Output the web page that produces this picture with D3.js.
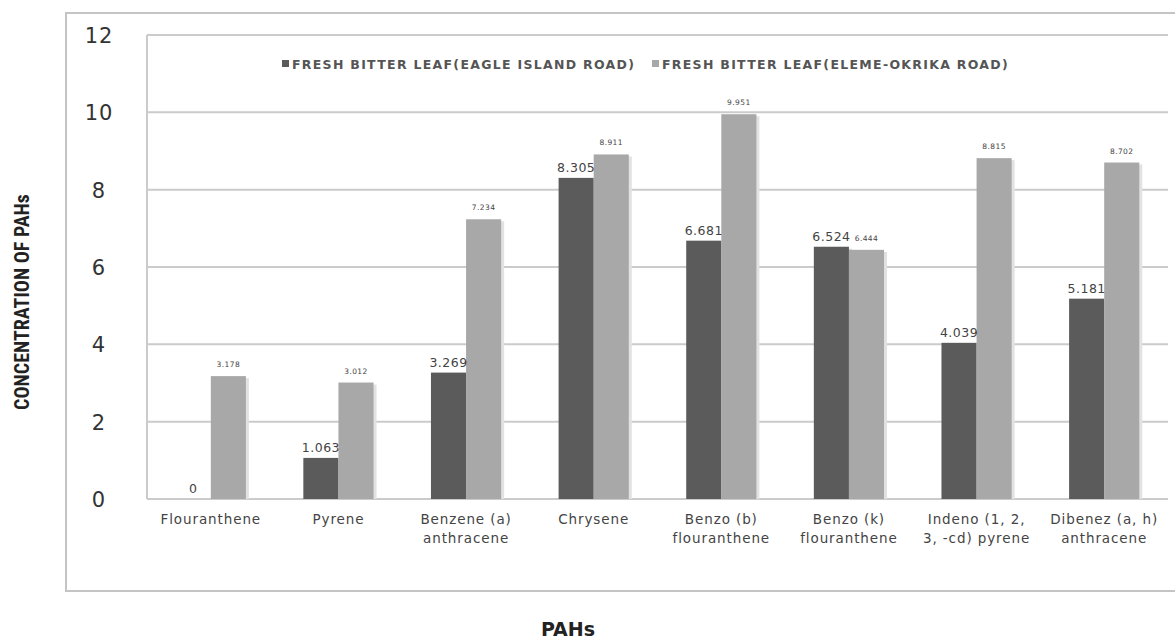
<!DOCTYPE html>
<html>
<head>
<meta charset="utf-8">
<script src="https://cdn.jsdelivr.net/npm/d3@7"></script>
<style>
  html, body { margin: 0; padding: 0; background: #fff; }
  svg { display: block; }
</style>
</head>
<body>
<svg id="chart" width="1175" height="640"></svg>
<script>
// PAH concentrations in fresh bitter leaf from two roadside sites
const categories = [
  "Flouranthene", "Pyrene", "Benzene (a) anthracene", "Chrysene",
  "Benzo (b) flouranthene", "Benzo (k) flouranthene",
  "Indeno (1, 2, 3, -cd) pyrene", "Dibenez (a, h) anthracene"
];
const categoryLines = [
  ["Flouranthene"], ["Pyrene"], ["Benzene (a)", "anthracene"], ["Chrysene"],
  ["Benzo (b)", "flouranthene"], ["Benzo (k)", "flouranthene"],
  ["Indeno (1, 2,", "3, -cd) pyrene"], ["Dibenez (a, h)", "anthracene"]
];
const seriesNames = [
  "FRESH BITTER LEAF(EAGLE ISLAND ROAD)",
  "FRESH BITTER LEAF(ELEME-OKRIKA ROAD)"
];
const eagleIsland = [0, 1.063, 3.269, 8.305, 6.681, 6.524, 4.039, 5.181];
const elemeOkrika = [3.178, 3.012, 7.234, 8.911, 9.951, 6.444, 8.815, 8.702];
const yTicks = [0, 2, 4, 6, 8, 10, 12];

const svg = d3.select("#chart");
const colors = ["#5b5b5b", "#a8a8a8"];
const plot = { left: 147, right: 1168, top: 35, bottom: 499 };

// outer chart frame
svg.append("rect")
  .attr("x", 66).attr("y", 13).attr("width", 1120).attr("height", 578)
  .attr("fill", "none").attr("stroke", "#c4c4c4").attr("stroke-width", 2);

const x0 = d3.scaleBand().domain(categories).range([plot.left, plot.right]).paddingInner(0).paddingOuter(0);
const bandW = x0.bandwidth();
const barW = bandW * 0.275;
const y = d3.scaleLinear().domain([0, 12]).range([plot.bottom, plot.top]);

// gridlines
svg.append("g").selectAll("line").data(yTicks).join("line")
  .attr("x1", plot.left).attr("x2", plot.right)
  .attr("y1", d => y(d)).attr("y2", d => y(d))
  .attr("stroke", "#cbcbcb").attr("stroke-width", 2);

// plot area left border
svg.append("line")
  .attr("x1", plot.left).attr("x2", plot.left)
  .attr("y1", plot.top).attr("y2", plot.bottom)
  .attr("stroke", "#cbcbcb").attr("stroke-width", 2);

// y axis tick labels
const yAxis = d3.axisLeft(y).tickValues(yTicks).tickSize(0).tickFormat(d3.format("d"));
const yg = svg.append("g").attr("transform", `translate(99,0)`).call(yAxis);
yg.select(".domain").remove();
yg.selectAll("text")
  .attr("x", 0).attr("text-anchor", "middle").attr("dy", "0.36em")
  .attr("font-family", "DejaVu Sans, sans-serif").attr("font-size", 21)
  .attr("letter-spacing", 1)
  .attr("fill", "#333");

const data = categories.map((c, i) => ({ c, vals: [eagleIsland[i], elemeOkrika[i]] }));

const groups = svg.append("g").selectAll("g").data(data).join("g")
  .attr("transform", d => `translate(${x0(d.c) + bandW / 2},0)`);

// soft shadow behind the bars
groups.selectAll("rect.shadow").data(d => d.vals).join("rect")
  .attr("class", "shadow")
  .attr("x", (v, j) => (j === 0 ? -barW : 0) + 3)
  .attr("y", v => y(v) + 2)
  .attr("width", barW).attr("height", v => y(0) - y(v) - 2)
  .attr("fill", "#e2e2e2");

groups.selectAll("rect.bar").data(d => d.vals).join("rect")
  .attr("class", "bar")
  .attr("x", (v, j) => (j === 0 ? -barW : 0))
  .attr("y", v => y(v))
  .attr("width", barW).attr("height", v => y(0) - y(v))
  .attr("fill", (v, j) => colors[j]);

// value labels
groups.append("text")
  .attr("x", -barW / 2).attr("y", d => y(d.vals[0]) - 6)
  .attr("text-anchor", "middle")
  .attr("font-family", "DejaVu Sans, sans-serif").attr("font-size", 12.5)
  .attr("letter-spacing", 0.5)
  .attr("fill", "#444")
  .text(d => d.vals[0]);
groups.append("text")
  .attr("x", barW / 2).attr("y", d => y(d.vals[1]) - 9)
  .attr("text-anchor", "middle")
  .attr("font-family", "DejaVu Sans, sans-serif").attr("font-size", 7.5)
  .attr("letter-spacing", 0.4)
  .attr("fill", "#444")
  .text(d => d3.format(".3f")(d.vals[1]));

// category labels
const xl = svg.append("g").selectAll("text").data(data).join("text")
  .attr("x", d => x0(d.c) + bandW / 2)
  .attr("y", 524)
  .attr("text-anchor", "middle")
  .attr("font-family", "DejaVu Sans, sans-serif").attr("font-size", 13.5)
  .attr("letter-spacing", 0.9)
  .attr("fill", "#444");
xl.each(function (d, i) {
  const t = d3.select(this);
  categoryLines[i].forEach((line, k) => {
    t.append("tspan").attr("x", x0(d.c) + bandW / 2).attr("dy", k === 0 ? 0 : 19).text(line);
  });
});

// legend
const legendX = [282, 652];
const legend = svg.append("g").selectAll("g").data(seriesNames).join("g")
  .attr("transform", (d, i) => `translate(${legendX[i]},64)`);
legend.append("rect").attr("x", 0).attr("y", -4).attr("width", 7).attr("height", 7)
  .attr("fill", (d, i) => colors[i]);
legend.append("text").attr("x", 10).attr("y", 4.5)
  .attr("font-family", "DejaVu Sans, sans-serif").attr("font-size", 12.5)
  .attr("letter-spacing", 1.3)
  .attr("font-weight", "bold").attr("fill", "#555")
  .text(d => d);

// axis titles
svg.append("text")
  .attr("transform", "translate(29,302) rotate(-90)")
  .attr("text-anchor", "middle")
  .attr("font-family", "Liberation Sans Narrow, Roboto Condensed, sans-serif")
  .attr("font-size", 20).attr("font-weight", "bold").attr("fill", "#222")
  .text("CONCENTRATION OF PAHs");

svg.append("text")
  .attr("x", 568).attr("y", 636)
  .attr("text-anchor", "middle")
  .attr("font-family", "DejaVu Sans, sans-serif")
  .attr("font-size", 19).attr("font-weight", "bold").attr("fill", "#222")
  .text("PAHs");
</script>
</body>
</html>
